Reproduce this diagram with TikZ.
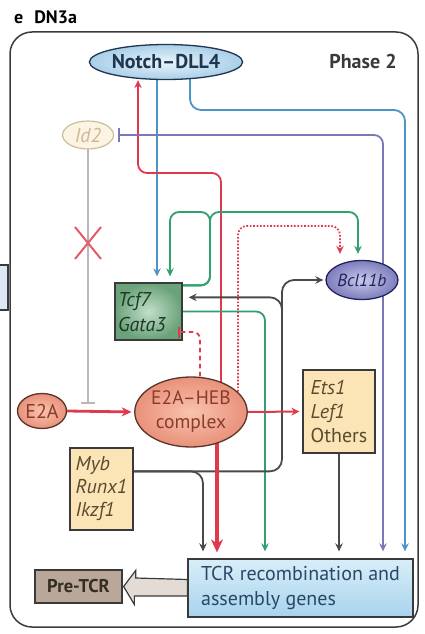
\documentclass[tikz,border=0pt]{standalone}
\usepackage{fontspec}
\setmainfont{PT Sans}
\usetikzlibrary{arrows.meta,shapes.geometric,backgrounds,calc}

\definecolor{cRed}{HTML}{E0384C}
\definecolor{cX}{HTML}{E45A68}
\definecolor{cBlue}{HTML}{4F94C6}
\definecolor{cGreen}{HTML}{2FA06E}
\definecolor{cPurple}{HTML}{7A78B8}
\definecolor{cGray}{HTML}{4A4A4A}
\definecolor{cLight}{HTML}{B8B8B8}
\definecolor{cFrame}{HTML}{3C3C3C}
\definecolor{cEdge}{HTML}{3A3A3A}
\definecolor{cBeige}{HTML}{FBE4B6}
\definecolor{cBeigeTxt}{HTML}{5A4A30}
\definecolor{cSalmonIn}{HTML}{F9C3AC}
\definecolor{cSalmonOut}{HTML}{E9917B}
\definecolor{cSalmonEdge}{HTML}{5A3428}
\definecolor{cSalmonTxt}{HTML}{8A3C2C}
\definecolor{cNotchIn}{HTML}{EAF4FB}
\definecolor{cNotchOut}{HTML}{A9CFE8}
\definecolor{cNotchTxt}{HTML}{1F3550}
\definecolor{cTcfIn}{HTML}{C2DFC9}
\definecolor{cTcfOut}{HTML}{6AA27A}
\definecolor{cTcfTxt}{HTML}{1E3A28}
\definecolor{cBclIn}{HTML}{CACAEC}
\definecolor{cBclOut}{HTML}{7C7CBC}
\definecolor{cBclTxt}{HTML}{23235C}
\definecolor{cIdFill}{HTML}{FBF4E4}
\definecolor{cIdEdge}{HTML}{C9B994}
\definecolor{cIdTxt}{HTML}{CDB98E}
\definecolor{cTcrTop}{HTML}{D8EEF9}
\definecolor{cTcrBot}{HTML}{A8D3EC}
\definecolor{cTcrTxt}{HTML}{2A4866}
\definecolor{cPre}{HTML}{B9A899}
\definecolor{cPreTxt}{HTML}{352C24}
\definecolor{cHollow}{HTML}{E4DBD4}
\definecolor{cSide}{HTML}{DCE8F4}

\begin{document}
\begin{tikzpicture}[x=1pt,y=-1pt,
  every node/.style={font=\fontsize{20}{24}\selectfont, inner sep=0pt},
  conn/.style={line width=1.8pt, rounded corners=9pt},
  arrowhd/.style={-{Stealth[length=8pt,width=7.5pt]}, shorten >=#1},
  arrowhd/.default=3pt,
  blocker/.style={-{Bar[width=#1,line width=2pt]}},
  blocker/.default=12pt,
  ebox/.style={rectangle, draw=cEdge, line width=1.3pt, align=left},
  oval/.style={ellipse, line width=1.3pt, align=center},
]
\useasboundingbox (0,0) rectangle (425,634);

% panel frame and headings
\node[draw=cFrame, line width=1.5pt, rounded corners=22pt,
      minimum width=408pt, minimum height=595pt] (frame) at (214,329.5) {};
\node[anchor=base west, font=\fontsize{18}{20}\selectfont\bfseries] (title) at (14,24) {e\hspace{11pt}DN3a};
\node[font=\fontsize{20}{22}\selectfont\bfseries, text=cEdge] (phase) at (363,62) {Phase 2};

% fragment of the neighbouring panel at the left edge
\fill[cSide] (-2,265) rectangle (8,310);
\draw[cEdge, line width=1.2pt] (-2,265) -- (8,265) -- (8,310) -- (-2,310);

% signalling molecules and gene groups
\node[oval, draw=cNotchTxt, inner color=cNotchIn, outer color=cNotchOut,
      minimum width=132pt, minimum height=35pt, text=cNotchTxt,
      font=\fontsize{20}{22}\selectfont\bfseries] (notch) at (166,62) {Notch--DLL4};
\node[oval, draw=cIdEdge, fill=cIdFill, minimum width=51pt, minimum height=28pt,
      text=cIdTxt, line width=1.1pt] (id2) at (88,135) {\itshape Id2};
\node[ebox, inner color=cTcfIn, outer color=cTcfOut, minimum width=67pt,
      minimum height=57pt, text width=61pt, inner xsep=3pt, text=cTcfTxt,
      font=\fontsize{20}{25}\selectfont] (tcf) at (148.5,311.5) {\itshape Tcf7\\\itshape Gata3};
\node[oval, draw=cBclTxt, inner color=cBclIn, outer color=cBclOut,
      minimum width=72pt, minimum height=39pt, text=cBclTxt,
      font=\fontsize{17.5}{20}\selectfont] (bcl) at (362,280) {\itshape Bcl11b};
\node[oval, draw=cSalmonEdge, inner color=cSalmonIn, outer color=cSalmonOut,
      minimum width=49pt, minimum height=35pt, text=cSalmonTxt] (e2a) at (42,411) {E2A};
\node[oval, draw=cSalmonEdge, inner color=cSalmonIn, outer color=cSalmonOut,
      minimum width=103pt, minimum height=70pt, text=cSalmonTxt,
      font=\fontsize{19.5}{24}\selectfont] (heb) at (191,412) {E2A--HEB\\complex};
\node[ebox, fill=cBeige, minimum width=72pt, minimum height=83pt,
      text=cBeigeTxt] (ets) at (339,411.5) {\itshape Ets1\\\itshape Lef1\\Others};
\node[ebox, fill=cBeige, minimum width=63pt, minimum height=82pt,
      text=cBeigeTxt, font=\fontsize{20}{23}\selectfont] (myb) at (101.5,489) {\itshape Myb\\\itshape Runx1\\\itshape Ikzf1};
\node[ebox, top color=cTcrTop, bottom color=cTcrBot, minimum width=225pt,
      minimum height=58pt, text=cTcrTxt, font=\fontsize{20}{25}\selectfont] (tcr) at (300.5,588)
      {TCR recombination and\\assembly genes};
\node[ebox, fill=cPre, minimum width=87pt, minimum height=33pt, text=cPreTxt,
      font=\fontsize{18.5}{20}\selectfont\bfseries] (pre) at (78.5,586.5) {Pre-TCR};

% routing points of the connectors
\coordinate (rTurn) at (138,173);
\coordinate (xRup) at (221,0);
\coordinate (xRdn) at (217,0);
\coordinate (xB1) at (157,0);
\coordinate (xB2) at (190,0);
\coordinate (bTurn) at (405,110);
\coordinate (xP) at (383,0);
\coordinate (gTop) at (210,212);
\coordinate (xG1) at (170,0);
\coordinate (xG2) at (358,0);
\coordinate (xG3) at (265,0);
\coordinate (xGr) at (282,0);
\coordinate (xGt) at (203,0);
\coordinate (xDash) at (200,0);
\coordinate (dotTurn) at (238,226);
\coordinate (xDot) at (340,0);
\coordinate (idEnd) at (88,404);
\coordinate (xmark) at (88,243);

% Id2 -| E2A, blocked
\begin{pgfonlayer}{background}
\draw[cLight, line width=2pt, blocker=14pt] (id2.center) -- (id2.center |- idEnd);
\end{pgfonlayer}
\draw[cX, line width=2pt] ($(xmark)+(-13,-16)$) -- ($(xmark)+(13,16)$)
                          ($(xmark)+(13,-16)$) -- ($(xmark)+(-13,16)$);

\begin{pgfonlayer}{background}
% Notch signals
\draw[cBlue, conn, arrowhd=6pt] (xB1 |- notch.center) -- (xB1 |- tcf.north);
\draw[cBlue, conn, rounded corners=11pt, arrowhd=7pt] (xB2 |- notch.center) |- (bTurn) -- (bTurn |- tcr.north);
% E2A-HEB feeds back on Notch
\draw[cRed, conn, arrowhd=0pt] (xRup |- heb.center) |- (rTurn) -- (rTurn |- notch.south);
% Bcl11b represses Id2 and activates TCR genes
\draw[cPurple, conn, blocker=14pt, shorten >=3.5pt] (xP |- bcl.center) |- (id2.east);
\draw[cPurple, conn, arrowhd=7pt] (xP |- bcl.center) -- (xP |- tcr.north);
% Tcf7 / Gata3 outputs
\draw[cGreen, conn, arrowhd=6pt] ([yshift=-3pt]tcf.north east) -| (gTop) -| (xG1 |- tcf.north);
\draw[cGreen, conn, arrowhd=6pt] ([yshift=-3pt]tcf.north east) -| (gTop) -| (xG2 |- bcl.north);
\draw[cGreen, conn, arrowhd=7pt] (tcf.east) -| (xG3 |- tcr.north);
% Myb / Runx1 / Ikzf1 outputs
\draw[cGray, conn, rounded corners=12pt, arrowhd=2pt] ([yshift=-24pt]myb.north) -| (xGr |- bcl.west) -- (bcl.west);
\draw[cGray, conn, rounded corners=12pt, arrowhd=6pt] (xGr |- heb.center) |- ([yshift=-15pt]tcf.north east);
\draw[cGray, conn, rounded corners=12pt, arrowhd=7pt] ([yshift=-24pt]myb.north) -| (xGt |- tcr.north);
\draw[cGray, conn, arrowhd=7pt] (ets.south) -- (ets.south |- tcr.north);
% E2A-HEB to Bcl11b (dotted) and to TCR genes
\draw[cRed, conn, dash pattern=on 1.7pt off 1.7pt, arrowhd=6pt] (dotTurn |- heb.center) -- (dotTurn) -| (xDot |- bcl.north);
\draw[cRed, line width=3.8pt, -{Stealth[length=13pt,width=12pt]}, shorten >=6pt] (xRdn |- heb.center) -- (xRdn |- tcr.north);
\end{pgfonlayer}

% E2A-HEB represses Gata3 (dashed)
\draw[cRed, conn, rounded corners=7pt, dash pattern=on 4.5pt off 3.5pt, blocker=11pt]
  (xDash |- heb.north) |- ($(tcf.east)+(-5,20.5)$);

% E2A assembles the complex, which activates Ets1 / Lef1
\draw[cRed, line width=2.8pt, -{Stealth[length=10pt,width=9pt]}, shorten >=2.5pt] (e2a.east) -- (heb.west);
\draw[cRed, line width=2pt, -{Stealth[length=8pt,width=8pt]}, shorten >=3pt] (heb.east) -- (ets.west);

% TCR genes lead to the pre-TCR
\draw[cEdge, line width=1.2pt, fill=cHollow]
  ($(pre.east)+(1,0)$) -- ++(12,-16) -- ++(0,7.5) -- ($(tcr.west)+(0,-8.5)$)
  -- ($(tcr.west)+(0,8)$) -- ++(-53,0) -- ++(0,8.5) -- cycle;
\end{tikzpicture}
\end{document}
